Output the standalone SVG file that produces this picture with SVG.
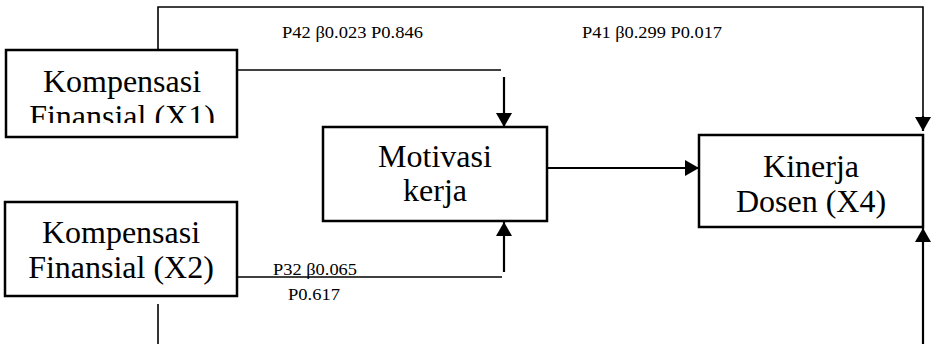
<svg xmlns="http://www.w3.org/2000/svg" width="933" height="344" viewBox="0 0 933 344">
<style>
.box{fill:#fff;stroke:#000;stroke-width:2.5}
.big{font-family:'Liberation Serif','Times New Roman',Times,serif;font-size:32px;fill:#000;text-anchor:middle}
.lbl{font-family:'Liberation Serif','Times New Roman',Times,serif;font-size:16.5px;fill:#000}
.thin{fill:none;stroke:#000;stroke-width:1.6}
.arr{fill:none;stroke:#000;stroke-width:2.2}
</style>
<defs>
<marker id="ah" markerUnits="userSpaceOnUse" markerWidth="16" markerHeight="16" viewBox="0 0 16 16" refX="14" refY="8" orient="auto">
<path d="M0,0 L14,8 L0,16 Z" fill="#000"/>
</marker>
<clipPath id="c1"><rect x="6" y="50" width="231" height="73"/></clipPath>
</defs>
<g id="connectors">
<polyline class="thin" points="158,50 158,7 923,7 923,118"/>
<line class="arr" x1="923" y1="116" x2="923" y2="131" marker-end="url(#ah)"/>
<polyline class="thin" points="237,70 501,70"/>
<line class="arr" x1="504" y1="77" x2="504" y2="127" marker-end="url(#ah)"/>
<polyline class="thin" points="237,277 502,277"/>
<line class="arr" x1="504" y1="272" x2="504" y2="222" marker-end="url(#ah)"/>
<line class="arr" x1="547" y1="168" x2="699" y2="168" marker-end="url(#ah)"/>
<line class="thin" x1="158" y1="304" x2="158" y2="344"/>
<line class="arr" x1="923" y1="344" x2="923" y2="228" marker-end="url(#ah)"/>
<text class="lbl" font-family="Liberation Serif" x="282" y="38" textLength="141" lengthAdjust="spacingAndGlyphs">P42 β0.023 P0.846</text>
<text class="lbl" font-family="Liberation Serif" x="582" y="38" textLength="140" lengthAdjust="spacingAndGlyphs">P41 β0.299 P0.017</text>
<text class="lbl" font-family="Liberation Serif" x="273" y="275" textLength="84" lengthAdjust="spacingAndGlyphs">P32 β0.065</text>
<text class="lbl" font-family="Liberation Serif" x="288" y="300" textLength="52" lengthAdjust="spacingAndGlyphs">P0.617</text>
</g>
<g id="x1">
<rect class="box" x="6" y="50" width="231" height="87"/>
<g clip-path="url(#c1)">
<text class="big" x="122" y="92">Kompensasi</text>
<text class="big" x="122" y="127">Finansial (X1)</text>
</g>
</g>
<g id="x2">
<rect class="box" x="5" y="202" width="232" height="94"/>
<text class="big" x="121" y="243">Kompensasi</text>
<text class="big" x="121" y="278">Finansial (X2)</text>
</g>
<g id="motivasi">
<rect class="box" x="323" y="127" width="224" height="94"/>
<text class="big" x="435" y="167">Motivasi</text>
<text class="big" x="435" y="201">kerja</text>
</g>
<g id="kinerja">
<rect class="box" x="699" y="135" width="224" height="92"/>
<text class="big" x="811" y="177">Kinerja</text>
<text class="big" x="811" y="212">Dosen (X4)</text>
</g>
</svg>
